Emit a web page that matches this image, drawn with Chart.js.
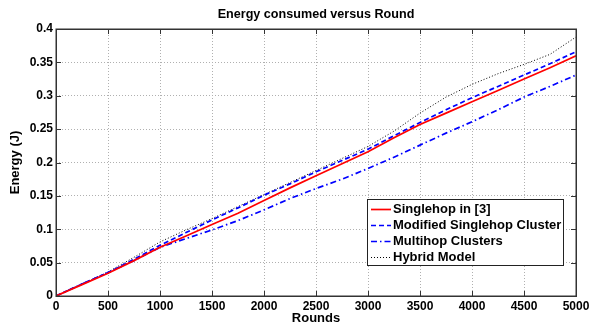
<!DOCTYPE html>
<html>
<head>
<meta charset="utf-8">
<script src="https://cdn.jsdelivr.net/npm/chart.js@4.4.0/dist/chart.umd.min.js"></script>
<style>
  html, body { margin: 0; padding: 0; background: #fff; }
  #wrap { width: 599px; height: 327px; }
</style>
</head>
<body>
<div id="wrap"><canvas id="myChart" width="599" height="327"></canvas></div>
<script>
const rounds = [0, 250, 500, 750, 1000, 1250, 1500, 1750, 2000, 2250, 2500,
                2750, 3000, 3250, 3500, 3750, 4000, 4250, 4500, 4750, 5000];
const singlehop = [0, 0.017, 0.034, 0.053, 0.073, 0.090, 0.107, 0.124, 0.143, 0.162, 0.180,
                   0.198, 0.216, 0.237, 0.257, 0.274, 0.291, 0.308, 0.325, 0.342, 0.360];
const modifiedSinglehop = [0, 0.018, 0.035, 0.055, 0.076, 0.095, 0.114, 0.132, 0.151, 0.168, 0.186,
                           0.203, 0.220, 0.240, 0.260, 0.279, 0.297, 0.314, 0.331, 0.348, 0.366];
const multihop = [0, 0.018, 0.035, 0.053, 0.073, 0.086, 0.099, 0.113, 0.129, 0.146, 0.161,
                  0.175, 0.191, 0.208, 0.226, 0.244, 0.261, 0.279, 0.298, 0.314, 0.331];
const hybrid = [0, 0.018, 0.036, 0.058, 0.081, 0.099, 0.116, 0.134, 0.152, 0.170, 0.188,
                0.206, 0.224, 0.247, 0.274, 0.298, 0.317, 0.333, 0.347, 0.362, 0.388];
const seriesNames = ['Singlehop in [3]', 'Modified Singlehop Cluster', 'Multihop Clusters', 'Hybrid Model'];

const FONT = '"Liberation Sans", Arial, Helvetica, sans-serif';

function pts(ys) {
  return rounds.map((r, i) => ({ x: r, y: ys[i] }));
}

// matlab style box, inward ticks and legend
const matlabAxes = {
  id: 'matlabAxes',
  afterDatasetsDraw(chart) {
    const ctx = chart.ctx;
    const a = chart.chartArea;
    const xs = chart.scales.x, ys = chart.scales.y;
    ctx.save();
    ctx.strokeStyle = '#333';
    ctx.lineWidth = 1;
    ctx.setLineDash([]);
    ctx.beginPath();
    xs.ticks.forEach(t => {
      const px = Math.round(xs.getPixelForValue(t.value)) + 0.5;
      ctx.moveTo(px, a.top); ctx.lineTo(px, a.top + 5);
      ctx.moveTo(px, a.bottom); ctx.lineTo(px, a.bottom - 5);
    });
    ys.ticks.forEach(t => {
      const py = Math.round(ys.getPixelForValue(t.value)) + 0.5;
      ctx.moveTo(a.left, py); ctx.lineTo(a.left + 5, py);
      ctx.moveTo(a.right, py); ctx.lineTo(a.right - 5, py);
    });
    ctx.stroke();
    ctx.lineWidth = 1.5;
    ctx.strokeRect(Math.round(a.left) + 0.25, Math.round(a.top) + 0.25,
                   Math.round(a.right - a.left), Math.round(a.bottom - a.top));

    // legend
    const bx = 367, by = 199, bw = 196, bh = 66;
    ctx.fillStyle = '#fff';
    ctx.fillRect(bx, by, bw, bh);
    ctx.lineWidth = 1;
    ctx.strokeStyle = '#222';
    ctx.strokeRect(bx + 0.5, by + 0.5, bw, bh);
    ctx.font = 'bold 13px ' + FONT;
    ctx.textBaseline = 'middle';
    ctx.textAlign = 'left';
    chart.data.datasets.forEach((ds, i) => {
      const y = by + 9.5 + i * 16.2;
      ctx.strokeStyle = ds.borderColor;
      ctx.lineWidth = ds.borderWidth;
      ctx.setLineDash(ds.borderDash || []);
      ctx.beginPath();
      ctx.moveTo(bx + 4, Math.round(y) + 0.5);
      ctx.lineTo(bx + 24, Math.round(y) + 0.5);
      ctx.stroke();
      ctx.setLineDash([]);
      ctx.fillStyle = '#000';
      ctx.fillText(ds.label, bx + 26, y + 0.5);
    });
    ctx.restore();
  }
};

const chart = new Chart(document.getElementById('myChart').getContext('2d'), {
  type: 'line',
  data: {
    datasets: [
      { label: seriesNames[0], data: pts(singlehop), borderColor: '#ff0000', borderWidth: 1.7 },
      { label: seriesNames[1], data: pts(modifiedSinglehop), borderColor: '#0000ff', borderWidth: 1.7, borderDash: [5, 3] },
      { label: seriesNames[2], data: pts(multihop), borderColor: '#0000ff', borderWidth: 1.7, borderDash: [6, 3, 1.5, 3] },
      { label: seriesNames[3], data: pts(hybrid), borderColor: '#000000', borderWidth: 1, borderDash: [1, 2] }
    ]
  },
  options: {
    responsive: false,
    animation: false,
    devicePixelRatio: 1,
    layout: { padding: { left: 0, right: 23, top: 0, bottom: 0 } },
    elements: { point: { radius: 0 }, line: { tension: 0 } },
    plugins: {
      legend: { display: false },
      tooltip: { enabled: false },
      title: {
        display: true,
        fullSize: false,
        text: 'Energy consumed versus Round',
        color: '#000',
        font: { family: FONT, size: 12.6, weight: 'bold' },
        padding: { top: 6.5, bottom: 7.38 }
      }
    },
    scales: {
      x: {
        type: 'linear',
        min: 0,
        max: 5000,
        afterFit(scale) { scale.height = 31; },
        ticks: {
          stepSize: 500,
          color: '#000',
          padding: 3,
          maxRotation: 0,
          font: { family: FONT, size: 12, weight: 'bold' },
          callback: v => String(v)
        },
        grid: { color: '#b0b0b0', lineWidth: 1, drawTicks: false },
        border: { display: false, dash: [1, 2] },
        title: {
          display: true,
          text: 'Rounds',
          color: '#000',
          font: { family: FONT, size: 13, weight: 'bold' },
          padding: { top: 0, bottom: 1.2 }
        }
      },
      y: {
        min: 0,
        max: 0.4,
        afterFit(scale) { scale.width = 56; },
        ticks: {
          stepSize: 0.05,
          color: '#000',
          padding: 3,
          font: { family: FONT, size: 12, weight: 'bold' },
          callback: v => String(+v.toFixed(2))
        },
        grid: { color: '#b0b0b0', lineWidth: 1, drawTicks: false },
        border: { display: false, dash: [1, 2] },
        title: {
          display: true,
          text: 'Energy (J)',
          color: '#000',
          font: { family: FONT, size: 13, weight: 'bold' },
          padding: { top: 8, bottom: 0 }
        }
      }
    }
  },
  plugins: [matlabAxes]
});
</script>
</body>
</html>
